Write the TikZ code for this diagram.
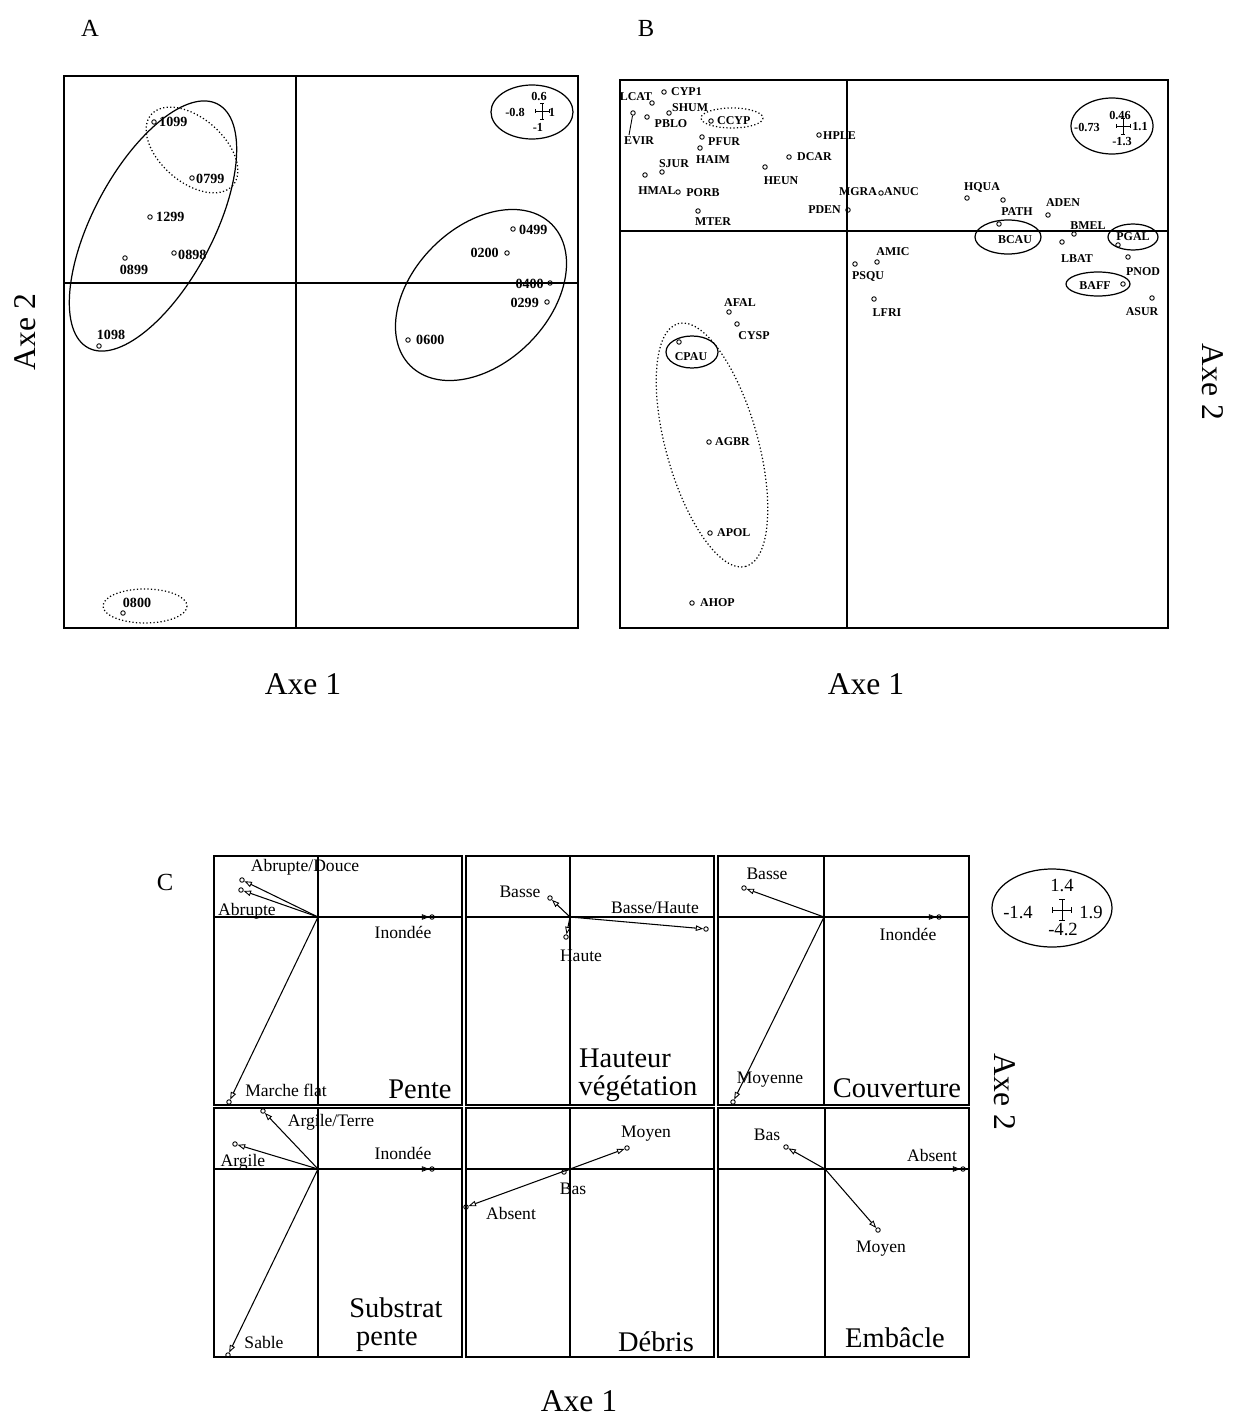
\documentclass[tikz,border=0pt]{standalone}
\usepackage{fontspec}
\setmainfont{Liberation Serif}
\usetikzlibrary{arrows.meta}
\tikzset{
  frame/.style={line width=1.1pt},
  axisline/.style={line width=0.6pt},
  ell/.style={line width=0.7pt},
  dell/.style={line width=0.7pt,dash pattern=on 0.7pt off 1.3pt},
  pt/.style={circle,draw,line width=0.5pt,inner sep=0pt,minimum size=0.9mm},
  lbA/.style={font=\fontsize{8}{9}\selectfont\bfseries,inner sep=0.5pt},
  lbB/.style={font=\fontsize{6.8}{7.8}\selectfont\bfseries,inner sep=0.5pt},
  lbC/.style={font=\fontsize{10}{11}\selectfont,inner sep=0.5pt},
  sclA/.style={font=\fontsize{7}{8}\selectfont\bfseries,inner sep=0.5pt},
  sclC/.style={font=\fontsize{10.6}{12}\selectfont,inner sep=0.5pt},
  bigt/.style={font=\fontsize{16.2}{18}\selectfont,inner sep=0pt},
  axt/.style={font=\fontsize{18}{20}\selectfont,inner sep=0pt},
  lettert/.style={font=\fontsize{14}{16}\selectfont,inner sep=0pt},
  endc/.style={circle,draw,line width=0.5pt,inner sep=0pt,minimum size=0.9mm},
  carrow/.style={line width=0.6pt,-{Triangle[open,length=1.5mm,width=1.1mm,line width=0.5pt]}},
  errcross/.pic={\draw[line width=0.5pt] (-7,0)--(7,0) (-7,-2)--(-7,2) (7,-2)--(7,2) (0,-8)--(0,8) (-2,-8)--(2,-8) (-2,8)--(2,8);}
}
\begin{document}
\begin{tikzpicture}[x=0.02cm,y=-0.02cm]
\useasboundingbox (0,0) rectangle (1233,1416);
\fill[white] (0,0) rectangle (1233,1416);

% ---------- titles ----------
\node[lettert] (lA) at (90,28) {A};
\node[lettert] (lB) at (646,28) {B};
\node[lettert] (lC) at (165,882) {C};
\node[axt] (ax1A) at (303,684) {Axe 1};
\node[axt] (ax1B) at (866,684) {Axe 1};
\node[axt] (ax1C) at (579,1401) {Axe 1};
\node[axt,rotate=90] (ax2A) at (25,332) {Axe 2};
\node[axt,rotate=-90] (ax2B) at (1213,382) {Axe 2};
\node[axt,rotate=-90] (ax2C) at (1005,1092) {Axe 2};

% ---------- panel A ----------
\draw[frame] (64,76) rectangle (578,628);
\draw[axisline] (296,76) -- (296,628) (64,283) -- (578,283);
\draw[ell,rotate around={62:(153,226)}] (153,226) ellipse [x radius=138, y radius=60];
\draw[dell,rotate around={-41:(192,150)}] (192,150) ellipse [x radius=54, y radius=32];
\draw[ell,rotate around={45:(481,295)}] (481,295) ellipse [x radius=100, y radius=68];
\draw[dell] (145,606) ellipse [x radius=42, y radius=17];
\foreach \n/\x/\y in {1099/154/122,0799/192/178,1299/150/217,0898/174/253,0899/125/258,1098/99/346,
  0499/513/229,0200/507/253,0400/550/283,0299/547/302,0600/408/340,0800/123/613}
  \node[pt] (pa\n) at (\x,\y) {};
\foreach \n/\x/\y/\a in {1099/158/122/west,0799/195/179/west,1299/155/217/west,0898/177/255/west,
  0899/134/270/center,1098/111/335/center,0499/518/230/west,0200/500/253/east,0400/545/284/east,
  0299/540/303/east,0600/415/340/west,0800/137/603/center}
  \node[lbA,anchor=\a] (ta\n) at (\x,\y) {\n};
% scale A
\draw[ell] (532,112) ellipse [x radius=41, y radius=27];
\pic at (542,111) {errcross};
\node[sclA] (sa1) at (539,96) {0.6};
\node[sclA] (sa2) at (515,112) {-0.8};
\node[sclA] (sa3) at (552,112) {1};
\node[sclA] (sa4) at (538,127) {-1};

% ---------- panel B ----------
\draw[frame] (620,80) rectangle (1168,628);
\draw[axisline] (847,80) -- (847,628) (620,231) -- (1168,231);
\draw[dell] (732,118) ellipse [x radius=31, y radius=10];
\draw[ell] (1008,237) ellipse [x radius=33, y radius=17];
\draw[ell] (1133,237) ellipse [x radius=25, y radius=13];
\draw[ell] (1098,284) ellipse [x radius=32, y radius=12];
\draw[ell] (692,352) ellipse [x radius=26, y radius=16];
\draw[dell,rotate around={-74.4:(712,445)}] (712,445) ellipse [x radius=126, y radius=46];
\foreach \n/\x/\y in {LCAT/652/103,CYP1/664/92,SHUM/669/113,PBLO/647/117,EVIR/633/113,CCYP/711/121,
  PFUR/702/137,HAIM/700/148,SJUR/662/172,HMAL/645/175,PORB/678/192,MTER/698/211,HPLE/819/135,
  DCAR/789/157,HEUN/765/167,PDEN/848/210,ANUC/881/193,HQUA/967/198,PATH/1003/200,ADEN/1048/215,
  BCAU/999/224,BMEL/1074/234,LBAT/1062/242,PGAL/1118/245,PNOD/1128/257,BAFF/1123/284,ASUR/1152/298,
  AMIC/877/262,PSQU/855/264,LFRI/874/299,AFAL/729/312,CYSP/737/324,CPAU/679/342,AGBR/709/442,
  APOL/710/533,AHOP/692/603}
  \node[pt] (pb\n) at (\x,\y) {};
\coordinate (evirend) at (629,135);
\draw[line width=0.5pt] (pbEVIR) -- (evirend);
\foreach \n/\x/\y/\a in {LCAT/636/97/center,CYP1/670/92/west,SHUM/671/108/west,PBLO/671/124/center,
  EVIR/639/141/center,CCYP/716/121/west,PFUR/707/142/west,HAIM/713/160/center,SJUR/674/164/center,
  HMAL/657/191/center,PORB/703/193/center,MTER/713/222/center,HPLE/822/136/west,DCAR/796/157/west,
  HEUN/781/181/center,PDEN/842/210/east,MGRA/858/192/center,ANUC/883/192/west,HQUA/982/188/center,
  PATH/1017/212/center,ADEN/1063/203/center,BCAU/1015/240/center,BMEL/1088/226/center,
  LBAT/1077/259/center,PGAL/1133/237/center,PNOD/1143/272/center,BAFF/1095/286/center,
  ASUR/1142/312/center,AMIC/893/252/center,PSQU/868/277/center,LFRI/887/313/center,
  AFAL/740/303/center,CYSP/754/336/center,CPAU/691/357/center,AGBR/714/442/west,
  APOL/716/533/west,AHOP/699/603/west}
  \node[lbB,anchor=\a] (tb\n) at (\x,\y) {\n};
% scale B
\draw[ell] (1112,126) ellipse [x radius=41, y radius=28];
\pic at (1123,126) {errcross};
\node[sclA] (sb1) at (1120,115) {0.46};
\node[sclA] (sb2) at (1087,127) {-0.73};
\node[sclA] (sb3) at (1140,127) {1.1};
\node[sclA] (sb4) at (1122,142) {-1.3};

% ---------- panel C ----------
\foreach \xa/\xb/\xc in {214/462/318,466/714/570,718/969/824}{
  \draw[frame] (\xa,856) rectangle (\xb,1105);
  \draw[axisline] (\xc,856) -- (\xc,1105) (\xa,917) -- (\xb,917);
}
\foreach \xa/\xb/\xc in {214/462/318,466/714/570,718/969/825}{
  \draw[frame] (\xa,1108) rectangle (\xb,1357);
  \draw[axisline] (\xc,1108) -- (\xc,1357) (\xa,1169) -- (\xb,1169);
}
% P1 Pente
\coordinate (o1) at (318,917);
\node[endc] (c1a) at (242,880) {};
\node[endc] (c1b) at (241,890) {};
\node[endc] (c1c) at (432,917) {};
\node[endc] (c1d) at (229,1102) {};
\foreach \e in {c1a,c1b,c1c,c1d} \draw[carrow] (o1) -- (\e);
\node[lbC] (t1a) at (305,867) {Abrupte/Douce};
\node[lbC] (t1b) at (247,911) {Abrupte};
\node[lbC] (t1c) at (403,932) {Inondée};
\node[lbC] (t1d) at (286,1090) {Marche flat};
\node[bigt] (t1e) at (420,1089) {Pente};
% P2 Hauteur vegetation
\coordinate (o2) at (570,917);
\node[endc] (c2a) at (550,898) {};
\node[endc] (c2b) at (706,929) {};
\node[endc] (c2c) at (566,937) {};
\foreach \e in {c2a,c2b,c2c} \draw[carrow] (o2) -- (\e);
\node[lbC] (t2a) at (520,892) {Basse};
\node[lbC] (t2b) at (655,908) {Basse/Haute};
\node[lbC] (t2c) at (581,956) {Haute};
\node[bigt] (t2d) at (625,1058) {Hauteur};
\node[bigt] (t2e) at (638,1089) {végétation};
% P3 Couverture
\coordinate (o3) at (824,917);
\node[endc] (c3a) at (744,888) {};
\node[endc] (c3b) at (939,917) {};
\node[endc] (c3c) at (733,1102) {};
\foreach \e in {c3a,c3b,c3c} \draw[carrow] (o3) -- (\e);
\node[lbC] (t3a) at (767,874) {Basse};
\node[lbC] (t3b) at (908,934) {Inondée};
\node[lbC] (t3c) at (770,1080) {Moyenne};
\node[bigt] (t3d) at (897,1088) {Couverture};
% P4 Substrat pente
\coordinate (o4) at (318,1169);
\node[endc] (c4a) at (263,1111) {};
\node[endc] (c4b) at (235,1144) {};
\node[endc] (c4c) at (432,1169) {};
\node[endc] (c4d) at (228,1355) {};
\foreach \e in {c4a,c4b,c4c,c4d} \draw[carrow] (o4) -- (\e);
\node[lbC] (t4a) at (331,1122) {Argile/Terre};
\node[lbC] (t4b) at (243,1162) {Argile};
\node[lbC] (t4c) at (403,1153) {Inondée};
\node[lbC] (t4d) at (264,1342) {Sable};
\node[bigt] (t4e) at (396,1308) {Substrat};
\node[bigt] (t4f) at (387,1341) {pente};
% P5 Debris
\coordinate (o5) at (570,1169);
\node[endc] (c5a) at (627,1148) {};
\node[endc] (c5b) at (564,1172) {};
\node[endc] (c5c) at (466,1207) {};
\draw[carrow] (o5) -- (c5a);
\draw[carrow] (o5) -- (c5c);
\draw[line width=0.6pt] (o5) -- (c5b);
\node[lbC] (t5a) at (646,1134) {Moyen};
\node[lbC] (t5b) at (573,1189) {Bas};
\node[lbC] (t5c) at (511,1213) {Absent};
\node[bigt] (t5d) at (656,1342) {Débris};
% P6 Embacle
\coordinate (o6) at (825,1169);
\node[endc] (c6a) at (786,1147) {};
\node[endc] (c6b) at (963,1169) {};
\node[endc] (c6c) at (878,1230) {};
\foreach \e in {c6a,c6b,c6c} \draw[carrow] (o6) -- (\e);
\node[lbC] (t6a) at (767,1135) {Bas};
\node[lbC] (t6b) at (932,1155) {Absent};
\node[lbC] (t6c) at (881,1249) {Moyen};
\node[bigt] (t6d) at (895,1338) {Embâcle};
% scale C
\draw[ell] (1052,908) ellipse [x radius=60, y radius=39];
\pic[scale=1.35] at (1062,910) {errcross};
\node[sclC] (sc1) at (1062,885) {1.4};
\node[sclC] (sc2) at (1018,912) {-1.4};
\node[sclC] (sc3) at (1091,912) {1.9};
\node[sclC] (sc4) at (1063,929) {-4.2};
\end{tikzpicture}
\end{document}
